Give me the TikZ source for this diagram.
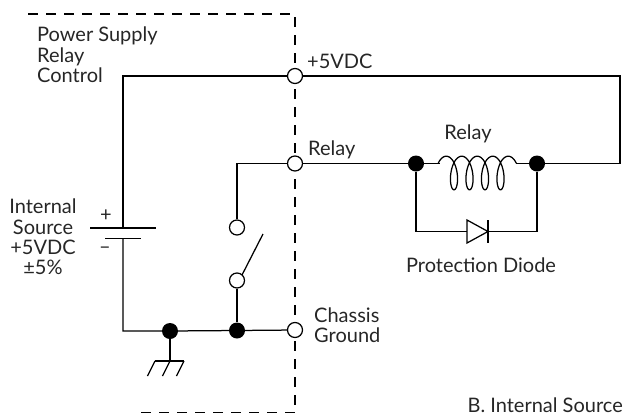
\documentclass[tikz,border=0pt]{standalone}
\usepackage{fontspec}
\setmainfont{Lato}
\usetikzlibrary{calc, positioning}
\tikzset{
  wire/.style={line width=1.25pt},
  opendot/.style={circle,draw,fill=white,line width=1.25pt,inner sep=0pt,minimum size=15pt},
  solidot/.style={circle,fill=black,inner sep=0pt,minimum size=16pt},
  lbl/.style={inner sep=0pt,align=left,text=black!85,font=\fontsize{20}{20.3}\selectfont},
  lblc/.style={lbl,align=center}
}
\begin{document}
\begin{tikzpicture}[x=1pt,y=-1pt]
\useasboundingbox (0,0) rectangle (629,416);
\draw[wire,dash pattern=on 10pt off 8pt] (28,14) -- (295,14) -- (295,412.5) -- (137,412.5);
\node[opendot] (topin) at (295,76) {};
\node[opendot] (relin) at (295,163.5) {};
\node[opendot] (gndin) at (295,330) {};
\node[opendot] (swa) at (237,227.5) {};
\node[opendot] (swb) at (237,280.5) {};
\node[solidot] (jgnd) at (170,331) {};
\node[solidot] (jsw) at (237,330.5) {};
\node[solidot] (jl) at (416,163.5) {};
\node[solidot] (jr) at (537,163.5) {};
\coordinate (plus) at (123,228);
\coordinate (minus) at (123,238.5);
\coordinate (cl) at (440,163.5);
\coordinate (cr) at (516,163.5);
\coordinate (da) at (467,231.5);
\coordinate (dk) at (488,231.5);
\coordinate (gnd) at (170,361);
% supply loop
\draw[wire] (plus) -- (123,76) -- (topin);
\draw[wire] (topin) -- (620,76) -- (620,163.5) -- (jr);
\draw[wire] (minus) -- (123,331) -- (jgnd) -- (jsw) -- (gndin);
% battery
\draw[wire] (90,228) -- (156,228);
\draw[wire] (105,238.5) -- (141,238.5);
% switch
\draw[wire] (swa) |- (relin);
\draw[wire] (swb) -- (jsw);
\draw[wire] (242,275) -- (263,234);
% relay
\draw[wire] (relin) -- (jl) -- (cl);
\draw[wire] (cr) -- (jr);
\draw[wire,samples=240,domain=-0.942:26.075,variable=\t,smooth]
  plot ({446.25+2.467*\t+7*sin(\t r)},{173-16.8*cos(\t r)});
% diode
\draw[wire] (jl) |- (da);
\draw[wire] (jr) |- (dk);
\draw[wire,line join=miter] (da) -- ++(0,-11.5) -- (dk) -- (467,243) -- cycle;
\draw[wire] (488,220) -- (488,243);
% ground
\draw[wire] (jgnd) -- (gnd);
\draw[wire] (155,361) -- (184,361);
\foreach \x in {155,170,184} \draw[wire] (\x,361) -- ++(-7.5,15);
% labels
\node[lbl,anchor=north west] (psu) at (37,27) {Power Supply\\Relay\\Control};
\node[lblc,anchor=north] (src) at (43,199) {Internal\\Source\\+5VDC\\±5\%};
\node[lbl] (pl) at (106,216) {+};
\node[lbl] (mi) at (105,250) {–};
\node[lbl,anchor=base west] (vlab) at (307,68) {+5VDC};
\node[lbl,anchor=base west] (rlab) at (308,155) {Relay};
\node[lbl,anchor=base] (clab) at (468,139) {Relay};
\node[lbl,anchor=base] (plab) at (481,272) {Protection Diode};
\node[lbl,anchor=north west] (glab) at (314,307.5) {Chassis\\Ground};
\node[lbl,anchor=base east] (blab) at (623,412.5) {B. Internal Source};
\end{tikzpicture}
\end{document}
